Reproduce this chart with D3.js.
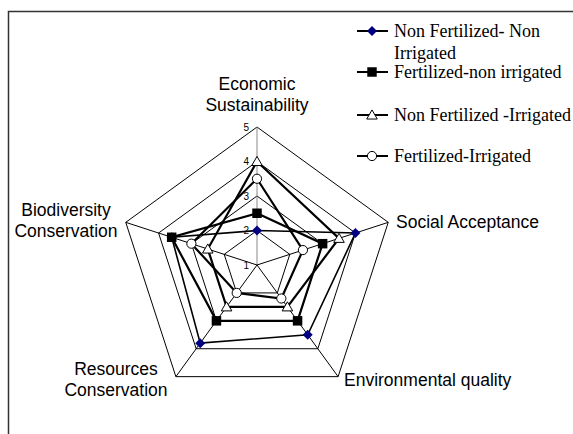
<!DOCTYPE html>
<html>
<head>
<meta charset="utf-8">
<script src="https://cdn.jsdelivr.net/npm/d3@7"></script>
<style>
  body { margin: 0; background: #fff; }
  svg { display: block; }
</style>
</head>
<body>
<div id="radar"></div>
<script>
var svgWidth = 573;
var svgHeight = 434;

// chart values
var categories = ["Economic Sustainability", "Social Acceptance", "Environmental quality",
  "Resources Conservation", "Biodiversity Conservation"];
var tickValues = [1, 2, 3, 4, 5];
var seriesNames = ["Non Fertilized- Non Irrigated", "Fertilized-non irrigated",
  "Non Fertilized -Irrigated", "Fertilized-Irrigated"];
var nonFertNonIrr = [2, 4, 3.5, 3.8, 3.6];
var fertNonIrr = [2.5, 3, 3, 3, 3.6];
var nonFertIrr = [4, 3.5, 2.5, 2.5, 2.5];
var fertIrr = [3.5, 2.4, 2.2, 2, 3];

var cx = 257, cy = 265, radius = 138;

var svg = d3.select("#radar")
  .append("svg")
  .attr("width", svgWidth)
  .attr("height", svgHeight);

// chart area frame (runs off the right and bottom edges)
svg.append("rect")
  .attr("x", 8.5).attr("y", 11.5)
  .attr("width", 600).attr("height", 460)
  .attr("fill", "none")
  .attr("stroke", "#333")
  .attr("stroke-width", 1.5);

var chartGroup = svg.append("g")
  .attr("transform", `translate(${cx}, ${cy})`);

var rScale = d3.scaleLinear().domain([1, 5]).range([0, radius]);
var angle = i => i * 2 * Math.PI / categories.length;

var radial = d3.lineRadial()
  .angle((d, i) => angle(i))
  .radius(d => rScale(d))
  .curve(d3.curveLinearClosed);

// rings
tickValues.slice(1).forEach(function(t) {
  chartGroup.append("path")
    .attr("d", radial(categories.map(() => t)))
    .attr("fill", "none")
    .attr("stroke", "#000")
    .attr("stroke-width", 1);
});

// spokes
categories.forEach(function(c, i) {
  var p = d3.pointRadial(angle(i), rScale(5));
  chartGroup.append("line")
    .attr("x1", 0).attr("y1", 0)
    .attr("x2", p[0]).attr("y2", p[1])
    .attr("stroke", i == 0 ? "#888" : "#000")
    .attr("stroke-width", 1);
});

// value labels on the vertical axis
chartGroup.selectAll(".tick")
  .data(tickValues)
  .enter()
  .append("text")
  .attr("x", -8)
  .attr("y", d => -rScale(d))
  .attr("dy", "0.35em")
  .attr("text-anchor", "end")
  .attr("font-family", "Liberation Sans, Arial, sans-serif")
  .attr("font-size", "10px")
  .attr("fill", "#000")
  .text(d => d);

// category labels
var labelLayout = [
  {x: 257, y: 90, anchor: "middle", lines: ["Economic", "Sustainability"]},
  {x: 396, y: 228, anchor: "start", lines: ["Social Acceptance"]},
  {x: 344, y: 386, anchor: "start", lines: ["Environmental quality"]},
  {x: 116, y: 375, anchor: "middle", lines: ["Resources", "Conservation"]},
  {x: 66, y: 216, anchor: "middle", lines: ["Biodiversity", "Conservation"]}
];
labelLayout.forEach(function(l) {
  var t = svg.append("text")
    .attr("text-anchor", l.anchor)
    .attr("font-family", "Liberation Sans, Arial, sans-serif")
    .attr("font-size", "17.5px")
    .attr("fill", "#000");
  l.lines.forEach(function(s, k) {
    t.append("tspan").attr("x", l.x).attr("y", l.y + k * 21).text(s);
  });
});

// series
var series = [
  {name: seriesNames[0], values: nonFertNonIrr, marker: "diamond", width: 1.6},
  {name: seriesNames[1], values: fertNonIrr, marker: "square", width: 2.2},
  {name: seriesNames[2], values: nonFertIrr, marker: "triangle", width: 2.2},
  {name: seriesNames[3], values: fertIrr, marker: "circle", width: 2.2}
];

function drawMarker(g, type, x, y) {
  if (type == "diamond") {
    g.append("path")
      .attr("d", d3.symbol(d3.symbolSquare, 50)())
      .attr("transform", `translate(${x},${y}) rotate(45)`)
      .attr("fill", "#000080");
  } else if (type == "square") {
    g.append("path")
      .attr("d", d3.symbol(d3.symbolSquare, 90)())
      .attr("transform", `translate(${x},${y})`)
      .attr("fill", "#000");
  } else if (type == "triangle") {
    g.append("path")
      .attr("d", d3.symbol(d3.symbolTriangle, 48)())
      .attr("transform", `translate(${x},${y + 1})`)
      .attr("fill", "#fff")
      .attr("stroke", "#000")
      .attr("stroke-width", 1);
  } else {
    g.append("circle")
      .attr("cx", x).attr("cy", y).attr("r", 4.6)
      .attr("fill", "#fff")
      .attr("stroke", "#000")
      .attr("stroke-width", 1);
  }
}

series.forEach(function(s) {
  var g = chartGroup.append("g");
  g.append("path")
    .attr("d", radial(s.values))
    .attr("fill", "none")
    .attr("stroke", "#000")
    .attr("stroke-width", s.width)
    .attr("stroke-linejoin", "miter");
  s.values.forEach(function(v, i) {
    var p = d3.pointRadial(angle(i), rScale(v));
    drawMarker(g, s.marker, p[0], p[1]);
  });
});

// legend
var legendRows = [
  {y: 31, lines: [37, 59]},
  {y: 72, lines: [78]},
  {y: 115, lines: [120.5]},
  {y: 156, lines: [161.5]}
];
series.forEach(function(s, i) {
  var row = legendRows[i];
  var g = svg.append("g");
  g.append("line")
    .attr("x1", 357).attr("x2", 388)
    .attr("y1", row.y).attr("y2", row.y)
    .attr("stroke", "#000")
    .attr("stroke-width", 2);
  drawMarker(g, s.marker, 372, row.y);
  var words = i == 0 ? ["Non Fertilized- Non", "Irrigated"] : [s.name];
  var t = g.append("text")
    .attr("font-family", "Liberation Serif, Times New Roman, serif")
    .attr("font-size", "18px")
    .attr("fill", "#000");
  words.forEach(function(w, k) {
    t.append("tspan").attr("x", 394).attr("y", row.lines[k]).text(w);
  });
});
</script>
</body>
</html>
